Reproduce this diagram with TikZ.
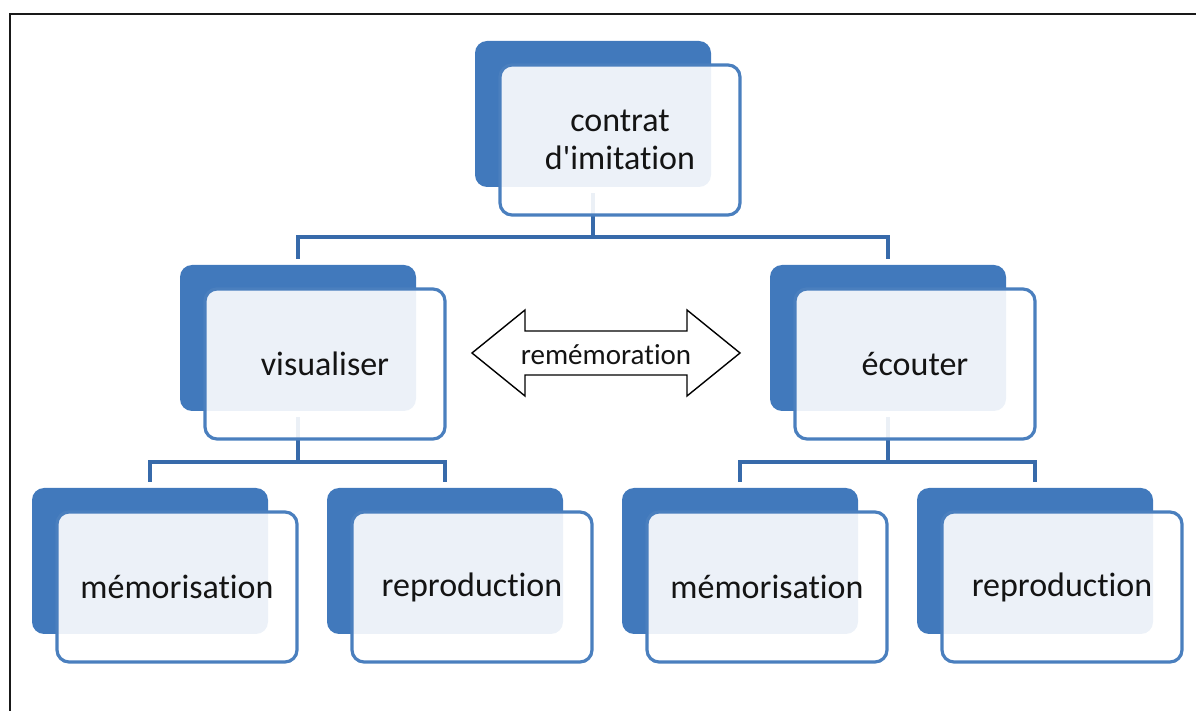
\documentclass[tikz,border=0pt]{standalone}
\usepackage{fontspec}
\setmainfont{Carlito}[Ligatures={NoCommon}]
\usepackage{tikz}
\usetikzlibrary{calc, backgrounds}
\definecolor{BoxBlue}{RGB}{65, 121, 188}
\definecolor{EdgeBlue}{RGB}{74, 127, 190}
\definecolor{LinkBlue}{RGB}{55, 106, 170}
\definecolor{TextDark}{RGB}{20, 20, 20}

\begin{document}
\begin{tikzpicture}[x=0.5pt,y=-0.5pt,
  backbox/.style={fill=BoxBlue, rounded corners=6pt, minimum width=118pt, minimum height=73pt, inner sep=0pt},
  frontbox/.style={draw=EdgeBlue, line width=1.6pt, fill=white, fill opacity=0.9, text opacity=1, rounded corners=6pt,
    minimum width=120pt, minimum height=75pt, inner sep=0pt, align=center, text=TextDark,
    font=\fontsize{17}{19}\selectfont},
  link/.style={LinkBlue, line width=2pt},
  dblarrow/.style={draw=black, line width=0.7pt, fill=white, line join=miter}]
  \path[use as bounding box] (0,0) rectangle (1196,711);
  \draw[black!90, line width=1.2pt] (10,711) -- (10,14) -- (1196,14);
  % boxes
  \foreach \nm/\x/\y/\txt in {top/593/114/{contrat\\d\textquotesingle imitation}, vis/298/338/visualiser, eco/888/338/écouter,
      memL/150/561/mémorisation, repL/445/561/reproduction, memR/740/561/mémorisation, repR/1035/561/reproduction}{
    \node[backbox] (\nm) at (\x,\y) {};
    \node[frontbox] (\nm f) at ([xshift=13.5pt,yshift=-13pt]\nm.center) {\txt};
  }
  % connectors
  \coordinate (bus0) at (593,237);
  \coordinate (bus1) at (298,462);
  \coordinate (bus2) at (888,462);
  \begin{scope}[on background layer]
    \draw[link, shorten <=3pt] (top.south) -- (bus0);
    \draw[link, shorten >=3pt] (bus0) -| (vis.north);
    \draw[link, shorten >=3pt] (bus0) -| (eco.north);
    \draw[link, shorten <=3pt] (vis.south) -- (bus1);
    \draw[link, shorten >=3pt] (bus1) -| (memL.north);
    \draw[link, shorten >=3pt] (bus1) -| (repL.north);
    \draw[link, shorten <=3pt] (eco.south) -- (bus2);
    \draw[link, shorten >=3pt] (bus2) -| (memR.north);
    \draw[link, shorten >=3pt] (bus2) -| (repR.north);
  \end{scope}
  % double arrow
  \draw[dblarrow] (472,353) -- (525,310) -- (525,331) -- (687,331) -- (687,310) -- (740,353)
    -- (687,396) -- (687,375) -- (525,375) -- (525,396) -- cycle;
  \node[text=TextDark, font=\fontsize{14.5}{16}\selectfont] (remem) at (606,355) {remémoration};
\end{tikzpicture}
\end{document}
